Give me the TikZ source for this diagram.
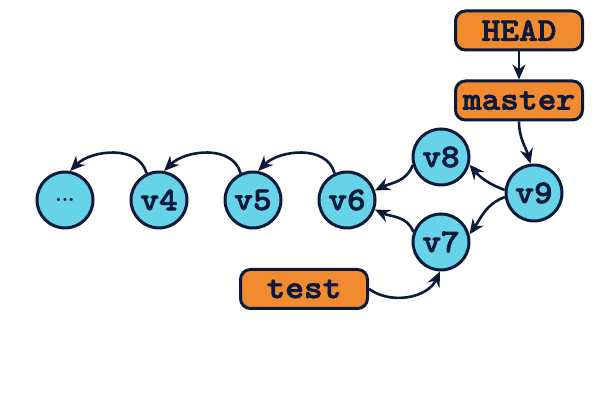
\documentclass[tikz,border=0pt]{standalone}
\usepackage{fontspec}
\newfontfamily\slabmono{lmmonolt10-bold}[Extension=.otf,FakeBold=2,FakeStretch=1.08]
\usetikzlibrary{arrows.meta}
\definecolor{cfill}{HTML}{66D3E8}
\definecolor{ofill}{HTML}{F28A30}
\definecolor{navy}{HTML}{0B1A3B}
\tikzset{
  commit/.style={circle,draw=navy,fill=cfill,line width=1.5pt,minimum size=28pt,inner sep=0pt,
    font=\fontsize{16.5}{18}\selectfont\slabmono,text=navy},
  ref/.style={rectangle,rounded corners=5pt,draw=navy,fill=ofill,line width=1.5pt,minimum width=63.5pt,minimum height=19.5pt,inner sep=0pt,
    font=\fontsize{16.5}{18}\selectfont\slabmono,text=navy},
  arr/.style={draw=navy,line width=1.3pt,-{Stealth[length=7.5pt,width=6.5pt,fill=black]}}
}
\begin{document}
\begin{tikzpicture}[x=0.5pt,y=-0.5pt]
\useasboundingbox (0,0) rectangle (600,400);
\node[commit] (dots) at (65,200) {\normalfont\bfseries\fontsize{10}{12}\selectfont\raisebox{-2pt}{...}};
\node[commit] (v4) at (159,200) {v4};
\node[commit] (v5) at (253,200) {v5};
\node[commit] (v6) at (347,200) {v6};
\node[commit] (v8) at (441,157) {v8};
\node[commit] (v7) at (441,242) {v7};
\node[commit] (v9) at (534,193) {v9};
\node[ref] (head) at (519,30.5) {HEAD};
\node[ref] (master) at (519,100.5) {master};
\node[ref] (test) at (304,289) {test};
\draw[arr] (v4.115) to[out=105,in=45] (dots.80);
\draw[arr] (v5.115) to[out=105,in=45] (v4.80);
\draw[arr] (v6.115) to[out=105,in=45] (v5.80);
\draw[arr] (v8.196) to[out=250,in=25] (v6.19);
\draw[arr] (v7.160) to[out=110,in=-25] (v6.-19);
\draw[arr] (v9.174) to[out=160,in=-50] (v8.-15);
\draw[arr] (v9.188) to[out=200,in=55] (v7.15);
\draw[arr] (head) -- (master);
\draw[arr] (master.south) to[out=-90,in=105] (v9.97);
\draw[arr] (test.east) to[out=-35,in=-115] (v7.-92);
\end{tikzpicture}
\end{document}
